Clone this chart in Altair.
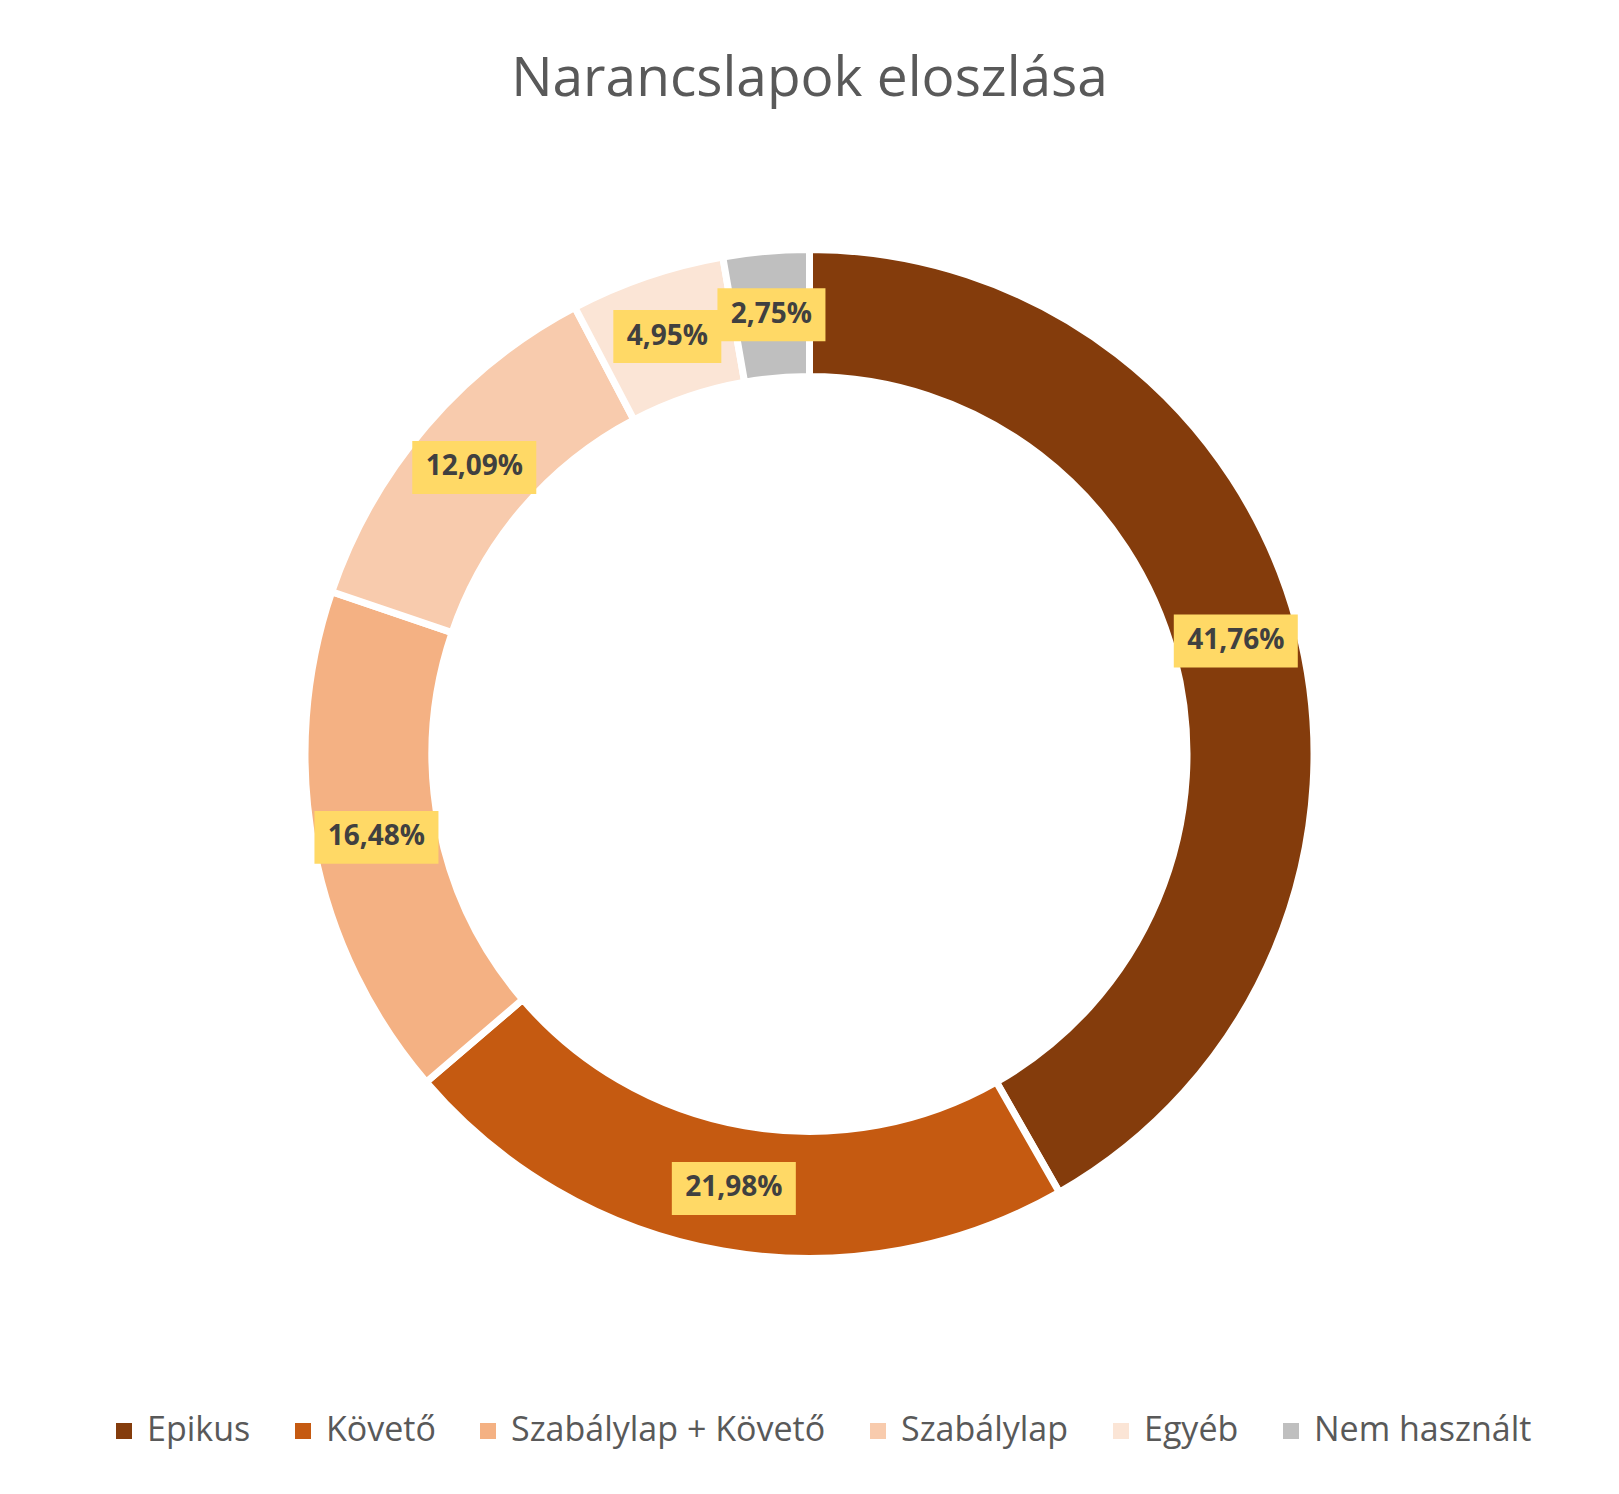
"""Doughnut chart: Narancslapok eloszlása"""
import altair as alt
import pandas as pd

categories = ["Epikus", "Követő", "Szabálylap + Követő", "Szabálylap", "Egyéb", "Nem használt"]
shares = [41.76, 21.98, 16.48, 12.09, 4.95, 2.75]
colors = ["#843C0C", "#C55A11", "#F4B183", "#F8CBAD", "#FBE5D6", "#BFBFBF"]

data = pd.DataFrame({
    "kategoria": categories,
    "arany": shares,
    "sorrend": list(range(len(categories))),
})

W, H = 1603, 1192
R_OUT, R_IN, R_MID = 504.5, 377.5, 441
FONT = "Open Sans"

base = alt.Chart(data)

# ring segments
ring = (base
    .mark_arc(radius=R_OUT, radius2=R_IN, stroke="white", strokeWidth=7)
    .encode(
        theta=alt.Theta("arany:Q", stack=True),
        order=alt.Order("sorrend:Q"),
        color=alt.Color(
            "kategoria:N",
            scale=alt.Scale(domain=categories, range=colors),
            sort=categories,
            title=None,
            legend=alt.Legend(
                orient="none", direction="horizontal", columns=6,
                legendX=99, legendY=1256,
                symbolType="square", symbolSize=256, symbolStrokeWidth=0,
                labelFont=FONT, labelFontSize=34, labelColor="#595959",
                labelOffset=6, columnPadding=35, labelLimit=600,
            ),
        ),
    )
)

# label positions at the middle of each segment
labelled = (base
    .transform_joinaggregate(osszes="sum(arany)")
    .transform_window(kum="sum(arany)", sort=[{"field": "sorrend"}], frame=[None, 0])
    .transform_calculate(
        szog="2 * PI * (datum.kum - datum.arany / 2) / datum.osszes",
        px=f"{R_MID} * sin(datum.szog)",
        py=f"{R_MID} * cos(datum.szog)",
        felirat="replace(format(datum.arany, '.2f'), '.', ',') + '%'",
        doboz="length(datum.felirat) > 5 ? 'szeles' : 'keskeny'",
    )
)
xs = alt.X("px:Q", scale=alt.Scale(domain=[-W / 2, W / 2], nice=False, zero=False), axis=None)
ys = alt.Y("py:Q", scale=alt.Scale(domain=[-H / 2, H / 2], nice=False, zero=False), axis=None)

boxes = (labelled
    .mark_point(filled=True, fill="#FFD966", opacity=1, strokeWidth=0, size=124 * 124)
    .encode(
        x=xs, y=ys,
        shape=alt.Shape(
            "doboz:N",
            scale=alt.Scale(
                domain=["szeles", "keskeny"],
                range=["M-1,-0.4274L1,-0.4274L1,0.4274L-1,0.4274Z",
                       "M-0.871,-0.4274L0.871,-0.4274L0.871,0.4274L-0.871,0.4274Z"],
            ),
            legend=None,
        ),
    )
)

labels = (labelled
    .mark_text(font=FONT, fontSize=28, fontWeight="bold", color="#404040", baseline="middle")
    .encode(x=xs, y=ys, text="felirat:N")
)

chart = (alt
    .layer(ring, boxes, labels)
    .properties(
        width=W, height=H,
        title=alt.TitleParams(
            "Narancslapok eloszlása", font=FONT, fontSize=55, fontWeight="normal",
            color="#595959", anchor="middle", offset=50,
        ),
        autosize=alt.AutoSizeParams(type="none"),
        padding={"top": 150, "left": 0, "right": 0, "bottom": 136},
    )
    .configure_view(stroke=None)
)

chart.save("out.html", embed_options={"renderer": "svg", "actions": False})
